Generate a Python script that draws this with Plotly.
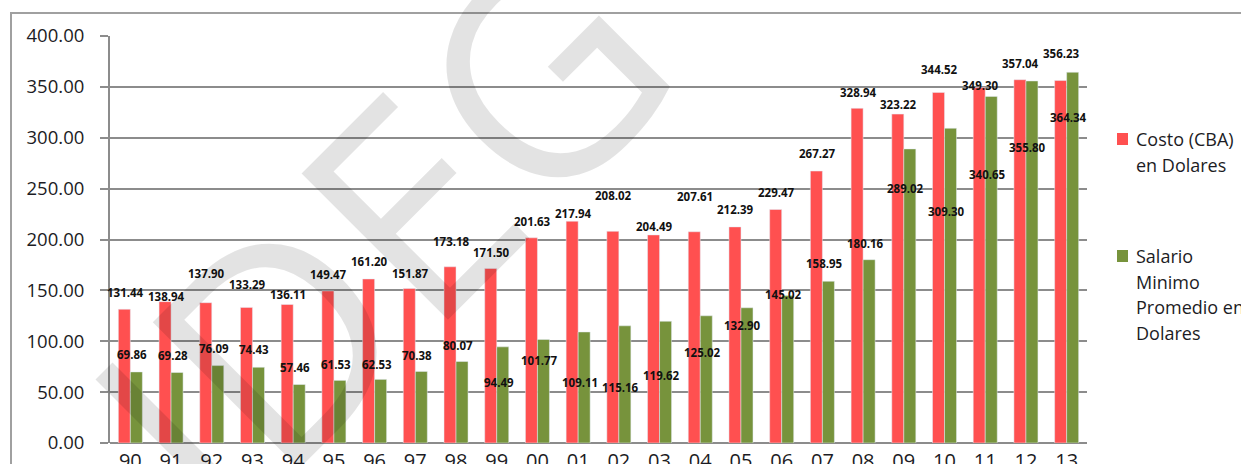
import plotly.graph_objects as go

# Datos
anios = ["90", "91", "92", "93", "94", "95", "96", "97", "98", "99", "00", "01",
         "02", "03", "04", "05", "06", "07", "08", "09", "10", "11", "12", "13"]
costo_cba = [131.44, 138.94, 137.90, 133.29, 136.11, 149.47, 161.20, 151.87,
             173.18, 171.50, 201.63, 217.94, 208.02, 204.49, 207.61, 212.39,
             229.47, 267.27, 328.94, 323.22, 344.52, 349.30, 357.04, 356.23]
salario_min = [69.86, 69.28, 76.09, 74.43, 57.46, 61.53, 62.53, 70.38,
               80.07, 94.49, 101.77, 109.11, 115.16, 119.62, 125.02, 132.90,
               145.02, 158.95, 180.16, 289.02, 309.30, 340.65, 355.80, 364.34]
series = ["Costo (CBA)<br>en Dolares", "Salario<br>Minimo<br>Promedio en<br>Dolares"]

# desplazamiento vertical de las etiquetas respecto a la barra (como en el original)
desfase_costo = [16, 5, 29, 22, 10, 16, 17, 15, 25, 16, 16, 8,
                 35, 8, 35, 17, 17, 17, 16, 9, 23, 2, 16, 27]
desfase_salario = [17, 17, 17, 17, 17, 16, 15, 16, 16, -35, -21, -50,
                   -61, -53, -36, -17, 1, 17, 16, -39, -82, -77, -65, -44]

ROJO = "#FF5050"
VERDE = "#77933C"
GRIS = "#8c8c8c"
TEXTO = "#1c1c24"

W, H = 1241, 464
M = dict(l=110, r=154, t=36, b=21)
PW, PH = W - M["l"] - M["r"], H - M["t"] - M["b"]


def px(x):
    return (x - M["l"]) / PW


def py(y):
    return (H - M["b"] - y) / PH


fig = go.Figure()
fig.add_trace(go.Bar(x=anios, y=costo_cba, name=series[0], marker_color=ROJO))
fig.add_trace(go.Bar(x=anios, y=salario_min, name=series[1], marker_color=VERDE))

# etiquetas de datos (x por indice de categoria)
fuente_etq = dict(family="Open Sans", size=11.5, color="#111", weight="bold")
for i in range(len(anios)):
    fig.add_annotation(x=i, y=costo_cba[i] + desfase_costo[i], text=f"{costo_cba[i]:.2f}",
                       showarrow=False, xshift=-5, font=fuente_etq)
    fig.add_annotation(x=i, y=salario_min[i] + desfase_salario[i], text=f"{salario_min[i]:.2f}",
                       showarrow=False, xshift=2, font=fuente_etq)

# leyenda dibujada a mano (la de plotly se recoloca dentro del lienzo)
for nombre, color, y0 in [(series[0], ROJO, 139), (series[1], VERDE, 256)]:
    fig.add_shape(type="rect", xref="paper", yref="paper", x0=px(1117), x1=px(1128),
                  y0=py(y0 - 6), y1=py(y0 + 6), fillcolor=color, line_width=0)
    for k, linea in enumerate(nombre.split("<br>")):
        fig.add_annotation(xref="paper", yref="paper", x=px(1134), y=py(y0 + k * 25.5),
                           text=linea, showarrow=False, xanchor="left", yanchor="middle",
                           font=dict(size=18, color=TEXTO))

# marca de agua
fig.add_annotation(xref="paper", yref="paper", x=px(376), y=py(232), text="IDEG",
                   xanchor="center", yanchor="middle",
                   showarrow=False, textangle=-45,
                   font=dict(family="Open Sans", size=290, color="rgba(0,0,0,0.11)", weight=400))

# marco exterior de la hoja
fig.add_shape(type="line", xref="paper", yref="paper", x0=px(10), x1=px(W), y0=py(13), y1=py(13),
              line=dict(color="#a0a0a0", width=2))
fig.add_shape(type="line", xref="paper", yref="paper", x0=px(11), x1=px(11), y0=py(13), y1=py(H),
              line=dict(color="#a0a0a0", width=2))

fig.update_layout(
    width=W, height=H, margin=M,
    paper_bgcolor="white", plot_bgcolor="white",
    barmode="group", bargap=0.41, bargroupgap=0,
    font=dict(family="Open Sans", color=TEXTO),
    showlegend=False,
)
fig.update_xaxes(type="category", range=[-0.5, len(anios) - 0.5], showline=False,
                 showgrid=False, ticks="", tickfont=dict(size=20, color=TEXTO),
                 automargin=False, ticklabelstandoff=4)
fig.update_yaxes(range=[0, 400], dtick=50, tickformat=".2f", showgrid=True,
                 gridcolor=GRIS, gridwidth=1.5, showline=True, linecolor=GRIS, linewidth=2,
                 ticks="outside", ticklen=8, tickcolor=GRIS, tickwidth=1.5,
                 tickfont=dict(size=18.5, color=TEXTO), automargin=False,
                 ticklabelstandoff=12, zeroline=True, zerolinecolor=GRIS, zerolinewidth=2)

# sin margen del body para que el lienzo empiece en (0, 0)
fig.write_html("out.html", config={"displayModeBar": False},
               post_script="document.body.style.margin='0';")
